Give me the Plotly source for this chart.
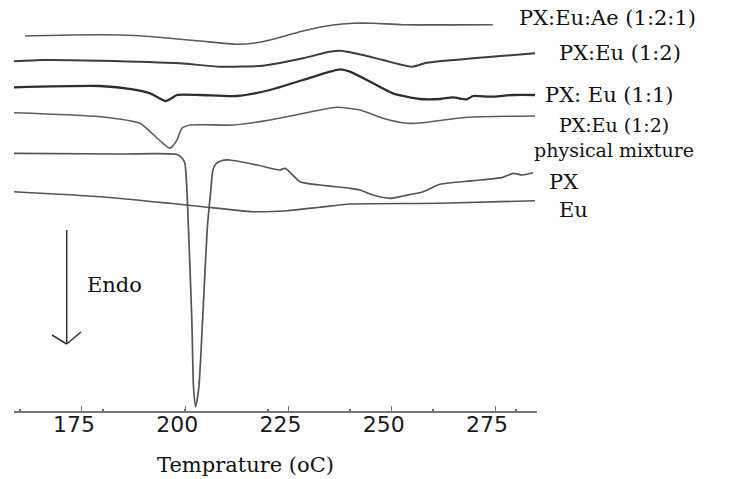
import plotly.graph_objects as go

# ---- Data (temperature in °C, heat-flow signal in arbitrary units; curves are offset) ----
t_ae = [161.2, 172.1, 184.2, 191.5, 196.3, 203.6, 212.5, 216.9, 220.5, 228.5, 235.8, 240.6, 245.5, 252.7, 274.5]
y_ae = [375, 376, 376, 374.5, 372.7, 370, 366.7, 368, 371, 380, 386, 387.7, 387.7, 386.3, 386.3]

t_12 = [158.5, 165.6, 179.4, 198.7, 208.4, 218.8, 228.5, 235.0, 237.5, 239.9, 243.0, 247.9, 254.9, 258.5, 269.7, 284.7]
y_12 = [349.7, 351, 350.3, 347.7, 344.3, 345.3, 352.7, 359.3, 360.3, 358.7, 356, 351, 344.3, 348.3, 352.7, 357.7]

t_11 = [158.5, 179.4, 187.3, 191.5, 193.6, 195.3, 196.8, 198.0, 203.6, 212.5, 220.5, 228.5, 235.0, 237.5,
        239.9, 245.5, 250.3, 256.8, 261.7, 264.8, 268.2, 269.7, 273.8, 279.4, 284.7]
y_11 = [323.7, 325, 321.7, 317.7, 313, 310, 313, 316, 316, 315, 321, 331, 339.3, 341.7,
        339.3, 327.7, 317.7, 312, 312, 313.7, 311.7, 315, 314.3, 316, 316]

t_pm = [158.5, 179.4, 189.0, 191.5, 194.6, 196.3, 198.0, 199.2, 201.2, 211.6, 220.5, 232.6, 236.7, 242.3,
        247.9, 253.7, 257.6, 268.2, 284.7]
y_pm = [298.3, 294.3, 287.7, 279.3, 267.7, 262.7, 271, 282.7, 286, 286, 291, 301, 303.7, 301,
        292.7, 287.7, 288.3, 293.7, 295]

t_px = [158.5, 184.2, 198.0, 199.2, 199.9, 200.4, 200.7, 201.6, 202.0, 202.5, 203.3, 204.2, 205.4, 206.2,
        206.7, 207.4, 208.9, 210.8, 217.4, 222.9, 224.2, 227.8, 232.6, 239.9, 242.3, 245.5, 249.6, 252.7,
        257.6, 261.7, 269.7, 276.9, 279.4, 281.5, 284.2]
y_px = [257.7, 257, 256.5, 253, 248, 221, 191, 91, 24, 4.3, 24, 91, 186, 221,
        241, 247, 250.5, 251, 246, 241, 242.7, 229.3, 226, 222.7, 221, 216, 212.7, 215,
        219.3, 226.7, 230.3, 233.7, 237.7, 236, 238.3]

t_eu = [158.5, 179.4, 196.3, 204.3, 216.4, 224.6, 232.6, 239.9, 261.7, 284.7]
y_eu = [219.3, 214.3, 207.7, 204.3, 199.3, 200.3, 203.7, 207, 207.7, 210.3]

labels = ["PX:Eu:Ae (1:2:1)", "PX:Eu (1:2)", "PX: Eu (1:1)", "PX:Eu (1:2)<br>physical mixture", "PX", "Eu"]
tick_vals = [175, 200, 225, 250, 275]
minor_vals = [160, 180, 200, 220, 240, 260, 280]

# ---- Layout geometry ----
W, H = 746, 479
ML, MR, MT, MB = 14, 209, 0, 68
PW, PH = W - ML - MR, H - MT - MB


def px(x, y):
    """pixel position in the page -> paper coords"""
    return (x - ML) / PW, (H - MB - y) / PH


fig = go.Figure()
series = [
    (t_ae, y_ae, "#5a5a5a", 1.6),
    (t_12, y_12, "#3c3c3c", 2.0),
    (t_11, y_11, "#2e2e2e", 2.3),
    (t_pm, y_pm, "#5e5e5e", 1.6),
    (t_px, y_px, "#555555", 1.7),
    (t_eu, y_eu, "#555555", 1.6),
]
for t, y, c, w in series:
    fig.add_trace(go.Scatter(x=t, y=y, mode="lines", line=dict(color=c, width=w, shape="spline", smoothing=0.6),
                             showlegend=False, hoverinfo="skip"))

serif = "DejaVu Serif"
# (x, y, xanchor, font size)
lab_pos = [(517, 18, "left", 21), (557, 53, "left", 21), (543, 95, "left", 21),
           (614, 137, "center", 19), (547, 182, "left", 21), (557, 210, "left", 21)]
annotations = []
for txt, (lx, ly, xa, fs) in zip(labels, lab_pos):
    xp, yp = px(lx, ly)
    annotations.append(dict(text=txt, x=xp, y=yp, xref="paper", yref="paper", xanchor=xa, yanchor="middle",
                            align="center", showarrow=False, font=dict(family=serif, size=fs, color="#111")))
xp, yp = px(85, 285)
annotations.append(dict(text="Endo", x=xp, y=yp, xref="paper", yref="paper", xanchor="left", yanchor="middle",
                        showarrow=False, font=dict(family=serif, size=21, color="#111")))
xp, yp = px(245, 465)
annotations.append(dict(text="Temprature (oC)", x=xp, y=yp, xref="paper", yref="paper", xanchor="center",
                        yanchor="middle", showarrow=False, font=dict(family=serif, size=21, color="#111")))

# Endo arrow (decoration)
shapes = []
for (x0, y0, x1, y1) in [(66.7, 230, 66.7, 344), (52, 335, 66.7, 344), (81, 332, 66.7, 344)]:
    a0, b0 = px(x0, y0)
    a1, b1 = px(x1, y1)
    shapes.append(dict(type="line", xref="paper", yref="paper", x0=a0, y0=b0, x1=a1, y1=b1,
                       line=dict(color="#333", width=1.5)))

fig.update_layout(
    width=W, height=H,
    margin=dict(l=ML, r=MR, t=MT, b=MB, pad=0),
    paper_bgcolor="white", plot_bgcolor="white",
    annotations=annotations, shapes=shapes,
    xaxis=dict(range=[158.54, 285.17], showgrid=False, zeroline=False, showline=True, linecolor="#777",
               linewidth=1.5, ticks="inside", ticklen=5, tickwidth=1.3, tickcolor="#777",
               tickvals=tick_vals, ticklabelshift=-8, ticklabelstandoff=-7,
               tickfont=dict(family="DejaVu Sans", size=22, color="#1a1a1a"),
               minor=dict(tickvals=minor_vals, ticks="inside", ticklen=2, tickcolor="#666", tickwidth=1.5)),
    yaxis=dict(range=[0, 411], visible=False, showgrid=False, zeroline=False),
)

fig.write_html("out.html")
